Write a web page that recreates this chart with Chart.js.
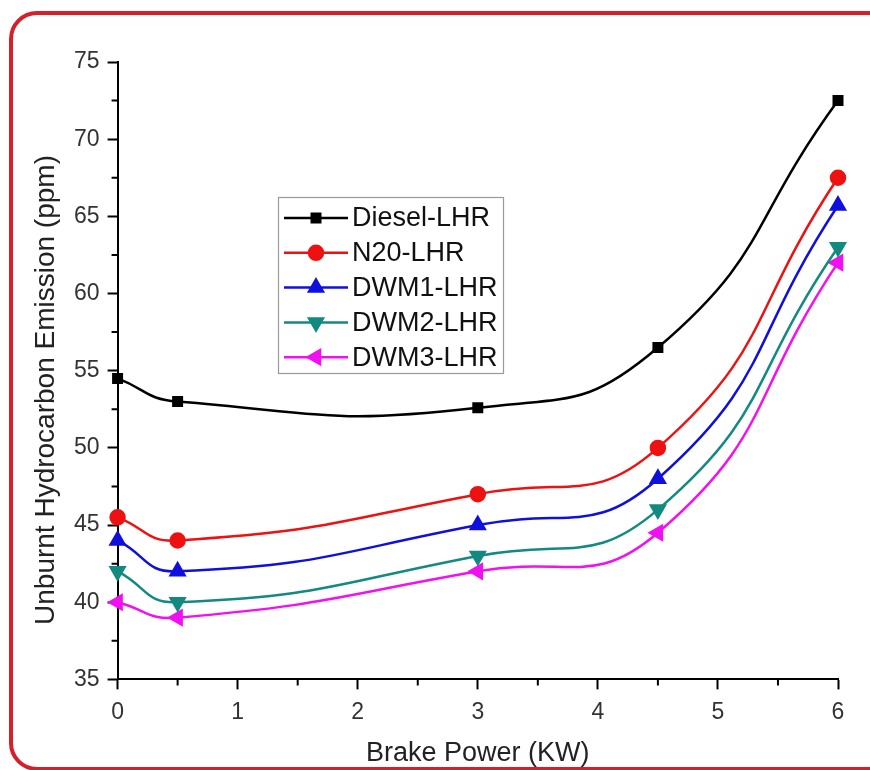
<!DOCTYPE html>
<html>
<head>
<meta charset="utf-8">
<script src="https://cdn.jsdelivr.net/npm/chart.js@4"></script>
<style>
  html, body { margin: 0; padding: 0; background: #fff; overflow: hidden; }
  #wrap { position: relative; width: 870px; height: 770px; }
  #frame {
    position: absolute; left: 9px; top: 11px; width: 880px; height: 752px;
    border: 4px solid #d5202c; border-radius: 28px; box-sizing: content-box;
    pointer-events: none;
  }
  canvas { position: absolute; left: 0; top: 0; }
</style>
</head>
<body>
<div id="wrap">
  <canvas id="c" width="870" height="770"></canvas>
  <div id="frame"></div>
</div>
<script>
// 데이터
const power = [0, 0.5, 3, 4.5, 6];
const dieselLHR = [54.5, 53.0, 52.6, 56.5, 72.5];
const n20LHR = [45.5, 44.0, 47.0, 50.0, 67.5];
const dwm1LHR = [44.0, 42.0, 45.0, 48.0, 65.7];
const dwm2LHR = [42.0, 40.0, 43.0, 46.0, 63.0];
const dwm3LHR = [40.0, 39.0, 42.0, 44.5, 62.0];
const seriesNames = ["Diesel-LHR", "N20-LHR", "DWM1-LHR", "DWM2-LHR", "DWM3-LHR"];
const xTitle = "Brake Power (KW)";
const yTitle = "Unburnt Hydrocarbon Emission (ppm)";

const FONT = "'Liberation Sans', Arial, sans-serif";
const pts = (ys) => power.map((x, i) => ({ x, y: ys[i] }));

function ds(label, ys, color, style, rot, r) {
  return {
    label, data: pts(ys),
    borderColor: color, backgroundColor: color,
    borderWidth: 2.5, tension: 0.5,
    pointStyle: style, rotation: rot, pointRadius: r, pointHoverRadius: r,
  };
}

// 보조 눈금 + 축 제목 (Origin 스타일)
const axisExtras = {
  id: "axisExtras",
  afterDraw(chart) {
    const { ctx, scales: { x, y } } = chart;
    ctx.save();
    ctx.strokeStyle = "#000";
    ctx.lineWidth = 2;
    ctx.beginPath();
    for (let v = 0.5; v < 6; v += 1) {
      const px = x.getPixelForValue(v);
      ctx.moveTo(px, y.bottom); ctx.lineTo(px, y.bottom + 6);
    }
    for (let v = 37.5; v < 75; v += 5) {
      const py = y.getPixelForValue(v);
      ctx.moveTo(x.left, py); ctx.lineTo(x.left - 6, py);
    }
    ctx.stroke();
    ctx.fillStyle = "#222";
    ctx.font = "27px " + FONT;
    ctx.textAlign = "center";
    ctx.textBaseline = "alphabetic";
    ctx.fillText(xTitle, (x.left + x.right) / 2, 761);
    ctx.translate(54, 390);
    ctx.rotate(-Math.PI / 2);
    ctx.font = "28px " + FONT;
    ctx.fillText(yTitle, 0, 0);
    ctx.restore();
  },
};

// 플롯 안쪽 범례 박스
const boxLegend = {
  id: "boxLegend",
  afterDraw(chart) {
    const ctx = chart.ctx;
    const x0 = 278, y0 = 197, w = 225, h = 176;
    ctx.save();
    ctx.fillStyle = "#fff";
    ctx.fillRect(x0, y0, w, h);
    ctx.strokeStyle = "#9a9a9a";
    ctx.lineWidth = 1.2;
    ctx.strokeRect(x0 + 0.5, y0 + 0.5, w, h);
    ctx.font = "27px " + FONT;
    ctx.textBaseline = "middle";
    chart.data.datasets.forEach((d, i) => {
      const y = 218 + i * 34.8;
      ctx.strokeStyle = d.borderColor;
      ctx.lineWidth = 2.5;
      ctx.beginPath(); ctx.moveTo(284, y); ctx.lineTo(348, y); ctx.stroke();
      ctx.fillStyle = d.backgroundColor;
      Chart.helpers.drawPoint(ctx, { pointStyle: d.pointStyle, rotation: d.rotation, radius: d.pointRadius, borderWidth: 1 }, 316, y);
      ctx.fillStyle = "#111";
      ctx.fillText(d.label, 352, y + 1);
    });
    ctx.restore();
  },
};

new Chart(document.getElementById("c"), {
  type: "line",
  data: {
    datasets: [
      ds(seriesNames[0], dieselLHR, "#000000", "rect", 0, 6),
      ds(seriesNames[1], n20LHR, "#ee1111", "circle", 0, 7),
      ds(seriesNames[2], dwm1LHR, "#1010dd", "triangle", 0, 8),
      ds(seriesNames[3], dwm2LHR, "#138a80", "triangle", 180, 8),
      ds(seriesNames[4], dwm3LHR, "#f010f0", "triangle", -90, 8),
    ],
  },
  options: {
    responsive: false,
    animation: false,
    clip: false,
    layout: { padding: { top: 62, right: 32, left: 66, bottom: 35 } },
    plugins: { legend: { display: false }, tooltip: { enabled: false } },
    scales: {
      x: {
        type: "linear", min: 0, max: 6,
        ticks: { stepSize: 1, color: "#333", font: { family: FONT, size: 23 }, padding: 9 },
        grid: { drawOnChartArea: false, tickLength: 10, tickColor: "#000", tickWidth: 2 },
        border: { color: "#000", width: 2 },
      },
      y: {
        min: 35, max: 75,
        ticks: { stepSize: 5, color: "#333", font: { family: FONT, size: 23 }, padding: 8 },
        grid: { drawOnChartArea: false, tickLength: 10, tickColor: "#000", tickWidth: 2 },
        border: { color: "#000", width: 2 },
      },
    },
  },
  plugins: [axisExtras, boxLegend],
});
</script>
</body>
</html>
